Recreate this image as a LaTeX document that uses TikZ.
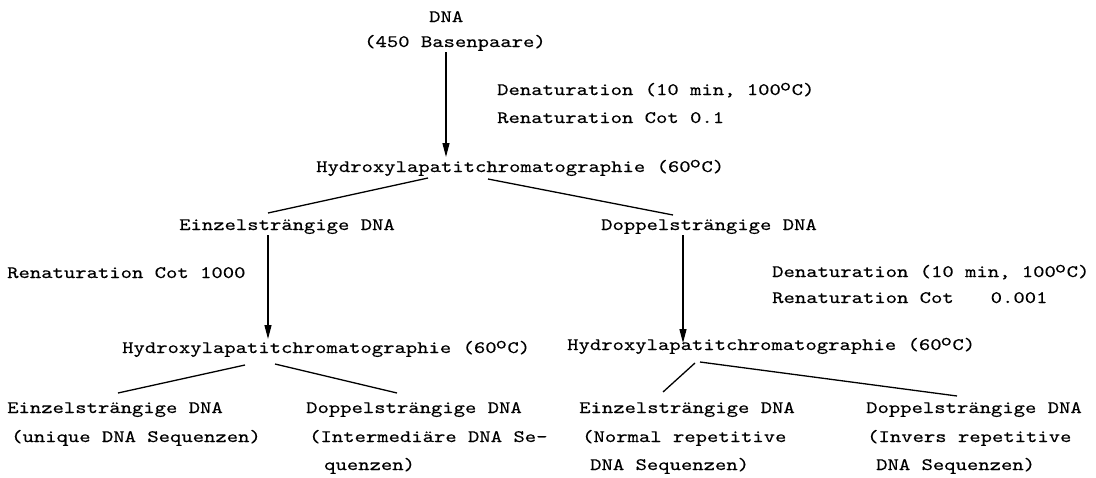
\documentclass[tikz,border=0pt]{standalone}
\usepackage{fontspec}
\newfontfamily\tw[FakeStretch=1.235,FakeBold=0.3]{lmmono10-regular.otf}
\usetikzlibrary{arrows.meta}
\newcommand{\dg}{\kern-1pt\raisebox{4.5pt}{o}\kern0.5pt}
\begin{document}
\begin{tikzpicture}[x=1pt,y=1pt,
  lbl/.style={anchor=base west,inner sep=0pt,font=\tw\fontsize{17.5}{20}\selectfont},
  conn/.style={line width=1.3pt},
  arr/.style={line width=1.3pt,-{Triangle[length=14pt,width=7pt]}}]
\useasboundingbox[fill=white] (0,0) rectangle (1096,-477);
% top
\node[lbl] (dna) at (429,-22) {DNA};
\node[lbl] (bp) at (364,-47) {(450 Basenpaare)};
\node[lbl] (den1) at (497,-95) {Denaturation (10 min, 100\dg C)};
\node[lbl] (ren1) at (497,-123) {Renaturation Cot 0.1};
\node[lbl] (hy1) at (316,-172) {Hydroxylapatitchromatographie (60\dg C)};
% level 2
\node[lbl] (es) at (179,-230) {Einzelsträngige DNA};
\node[lbl] (ds) at (601,-230) {Doppelsträngige DNA};
\node[lbl] (ren2) at (7,-278) {Renaturation Cot 1000};
\node[lbl] (den3) at (772,-277) {Denaturation (10 min, 100\dg C)};
\node[lbl] (ren3) at (772,-303) {Renaturation Cot\hspace*{37pt}0.001};
% level 3
\node[lbl] (hy2) at (122,-353) {Hydroxylapatitchromatographie (60\dg C)};
\node[lbl] (hy3) at (567,-350) {Hydroxylapatitchromatographie (60\dg C)};
% leaves
\node[lbl] (l1a) at (7,-413) {Einzelsträngige DNA};
\node[lbl] (l1b) at (11,-442) {(unique DNA Sequenzen)};
\node[lbl] (l2a) at (306,-413) {Doppelsträngige DNA};
\node[lbl] (l2b) at (309,-442) {(Intermediäre DNA Se-};
\node[lbl] (l2c) at (324,-470) {quenzen)};
\node[lbl] (l3a) at (579,-413) {Einzelsträngige DNA};
\node[lbl] (l3b) at (582,-442) {(Normal repetitive};
\node[lbl] (l3c) at (590,-470) {DNA Sequenzen)};
\node[lbl] (l4a) at (866,-413) {Doppelsträngige DNA};
\node[lbl] (l4b) at (867,-442) {(Invers repetitive};
\node[lbl] (l4c) at (876,-470) {DNA Sequenzen)};
% connectors
\draw[arr] ([xshift=82,yshift=-5]bp.base west) -- ([xshift=130,yshift=15]hy1.base west);
\draw[conn] ([xshift=112,yshift=-6]hy1.base west) -- ([xshift=89,yshift=17]es.base west);
\draw[conn] ([xshift=172,yshift=-7]hy1.base west) -- ([xshift=72,yshift=15]ds.base west);
\draw[arr] ([xshift=89,yshift=-5]es.base west) -- ([xshift=146,yshift=14]hy2.base west);
\draw[arr] ([xshift=82,yshift=-5]ds.base west) -- ([xshift=116,yshift=7]hy3.base west);
\draw[conn] ([xshift=123,yshift=-12]hy2.base west) -- ([xshift=111,yshift=20]l1a.base west);
\draw[conn] ([xshift=153,yshift=-11]hy2.base west) -- ([xshift=91,yshift=20]l2a.base west);
\draw[conn] ([xshift=128,yshift=-13]hy3.base west) -- ([xshift=84,yshift=21]l3a.base west);
\draw[conn] ([xshift=133,yshift=-12]hy3.base west) -- ([xshift=91,yshift=17]l4a.base west);
\end{tikzpicture}
\end{document}
